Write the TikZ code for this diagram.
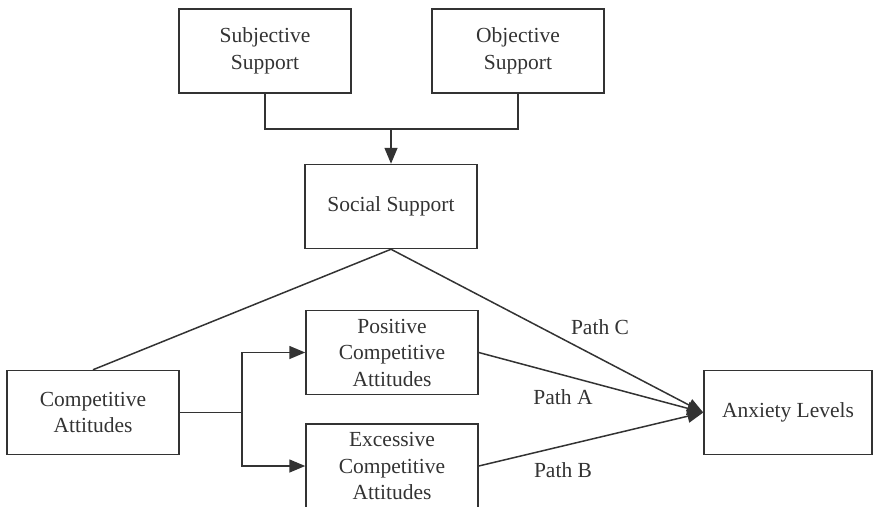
\documentclass[tikz,border=0pt]{standalone}
\usepackage{fontspec}
\setmainfont{Liberation Serif}
\usetikzlibrary{arrows.meta}
\definecolor{ink}{HTML}{333333}
\tikzset{
  box/.style={draw=ink, line width=1.5pt, text=ink, align=center,
    minimum width=172pt, minimum height=84pt, inner sep=2pt,
    font=\fontsize{21.5}{26.5}\selectfont},
  link/.style={ink, line width=1.5pt},
  arr/.style={link, -{Triangle[length=16pt,width=13pt]}},
  tag/.style={text=ink, font=\fontsize{21.5}{26.5}\selectfont}
}
\begin{document}
\begin{tikzpicture}[x=1pt,y=-1pt]
    \useasboundingbox (0,0) rectangle (874,506);
    \node[box] (sub) at (265,51) {Subjective\\Support};
    \node[box] (obj) at (518,51) {Objective\\Support};
    \node[box] (soc) at (391,206.5) {Social Support};
    \node[box] (comp) at (93,412.5) {Competitive\\Attitudes};
    \node[box] (pos) at (392,352.5) {Positive\\Competitive\\Attitudes};
    \node[box] (exc) at (392,466) {Excessive\\Competitive\\Attitudes};
    \node[box, minimum width=168pt] (anx) at (788,412.5) {Anxiety Levels};
    \coordinate (joint) at (391,129);
    \coordinate (fork) at (242,412.5);
    \draw[link] (sub.south) |- (joint) -| (obj.south);
    \draw[arr] (joint) -- (soc.north);
    \draw[link] (soc.south) -- (comp.north);
    \draw[link] (comp.east) -- (fork);
    \draw[arr] (fork) |- (pos.west);
    \draw[arr] (fork) |- (exc.west);
    \draw[arr] (soc.south) -- (anx.west);
    \draw[arr] (pos.east) -- (anx.west);
    \draw[arr] (exc.east) -- (anx.west);
    \node[tag] (pathc) at (600,327) {Path C};
    \node[tag] (patha) at (563,397) {Path A};
    \node[tag] (pathb) at (563,470) {Path B};
\end{tikzpicture}
\end{document}
